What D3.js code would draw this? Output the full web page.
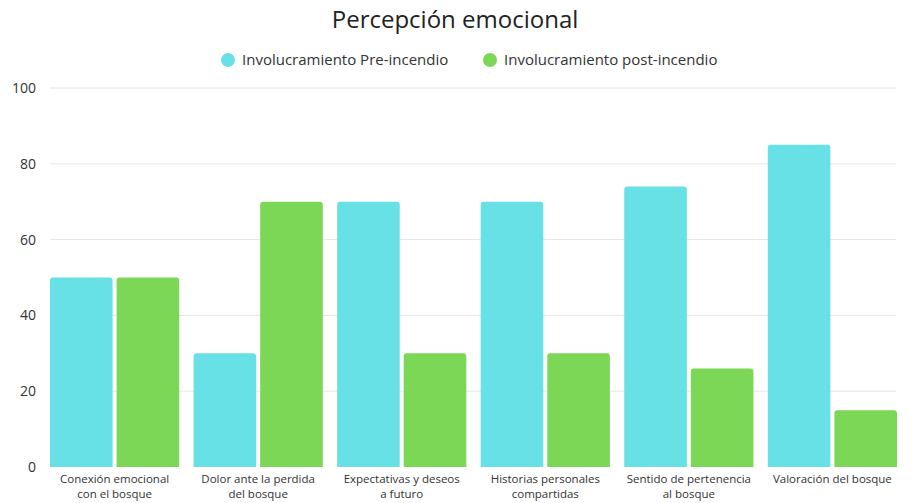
<!DOCTYPE html>
<html>
<head>
    <meta charset="utf-8">
    <title>Percepción emocional</title>
    <script src="https://d3js.org/d3.v7.min.js"></script>
    <style>
        body { margin: 0; background: #fff; font-family: 'Open Sans', sans-serif; }
    </style>
</head>
<body>
<div id="chart"></div>
<script>
    // datos
    const categories = [
        ["Conexión emocional", "con el bosque"],
        ["Dolor ante la perdida", "del bosque"],
        ["Expectativas y deseos", "a futuro"],
        ["Historias personales", "compartidas"],
        ["Sentido de pertenencia", "al bosque"],
        ["Valoración del bosque"]
    ];
    const seriesNames = ["Involucramiento Pre-incendio", "Involucramiento post-incendio"];
    const preValues = [50, 30, 70, 70, 74, 85];
    const postValues = [50, 70, 30, 30, 26, 15];
    const yTicks = [0, 20, 40, 60, 80, 100];
    const colors = ["#67E0E6", "#7DD756"];

    const W = 911, H = 503;
    const margin = { top: 88, right: 15, bottom: 36, left: 50 };
    const width = W - margin.left - margin.right;
    const height = H - margin.top - margin.bottom;

    const svg = d3.select("#chart").append("svg")
        .attr("width", W).attr("height", H);

    svg.append("text")
        .attr("x", 455).attr("y", 28)
        .attr("text-anchor", "middle")
        .attr("font-size", 24)
        .attr("fill", "#222")
        .text("Percepción emocional");

    // leyenda
    const legendX = [228, 490];
    const legend = svg.append("g");
    seriesNames.forEach((name, i) => {
        legend.append("circle")
            .attr("cx", legendX[i]).attr("cy", 60).attr("r", 7)
            .attr("fill", colors[i]);
        legend.append("text")
            .attr("x", legendX[i] + 14).attr("y", 65)
            .attr("font-size", 15)
            .attr("fill", "#333")
            .text(name);
    });

    const g = svg.append("g")
        .attr("transform", "translate(" + margin.left + "," + margin.top + ")");

    const x0 = d3.scaleBand()
        .domain(d3.range(categories.length))
        .range([0, width + 1])
        .paddingInner(0.1)
        .paddingOuter(0);

    const x1 = d3.scaleBand()
        .domain([0, 1])
        .range([0, x0.bandwidth()])
        .paddingInner(0.06);

    const y = d3.scaleLinear().domain([0, 100]).range([height, 0]);

    // rejilla
    g.append("g")
        .selectAll("line")
        .data(yTicks.filter(d => d > 0))
        .join("line")
        .attr("x1", 0).attr("x2", width)
        .attr("y1", d => y(d)).attr("y2", d => y(d))
        .attr("stroke", "#e6e6e6")
        .attr("stroke-width", 1);

    const yAxis = g.append("g")
        .call(d3.axisLeft(y).tickValues(yTicks).tickSize(0).tickPadding(14));
    yAxis.select(".domain").remove();
    yAxis.selectAll("text")
        .attr("font-family", "'Open Sans', sans-serif")
        .attr("font-size", 14)
        .attr("fill", "#333");

    const rows = categories.map((c, i) => [preValues[i], postValues[i]]);

    const groups = g.selectAll(".grupo")
        .data(rows)
        .join("g")
        .attr("class", "grupo")
        .attr("transform", (d, i) => "translate(" + x0(i) + ",0)");

    const r = 3;
    groups.selectAll("path")
        .data(d => d.map((v, k) => ({ v, k })))
        .join("path")
        .attr("fill", d => colors[d.k])
        .attr("d", d => {
            const x = x1(d.k), w = x1.bandwidth();
            const top = y(d.v), bot = y(0);
            return "M" + x + "," + bot +
                "V" + (top + r) +
                "Q" + x + "," + top + " " + (x + r) + "," + top +
                "H" + (x + w - r) +
                "Q" + (x + w) + "," + top + " " + (x + w) + "," + (top + r) +
                "V" + bot + "Z";
        });

    // etiquetas de categorias, una linea por texto
    const labelLines = [];
    categories.forEach((c, i) => c.forEach((line, j) => labelLines.push({ i, j, line })));
    g.append("g")
        .selectAll("text")
        .data(labelLines)
        .join("text")
        .attr("x", d => x0(d.i) + x0.bandwidth() / 2)
        .attr("y", d => height + 16 + d.j * 15)
        .attr("text-anchor", "middle")
        .attr("font-size", 11.5)
        .attr("fill", "#333")
        .text(d => d.line);
</script>
</body>
</html>
